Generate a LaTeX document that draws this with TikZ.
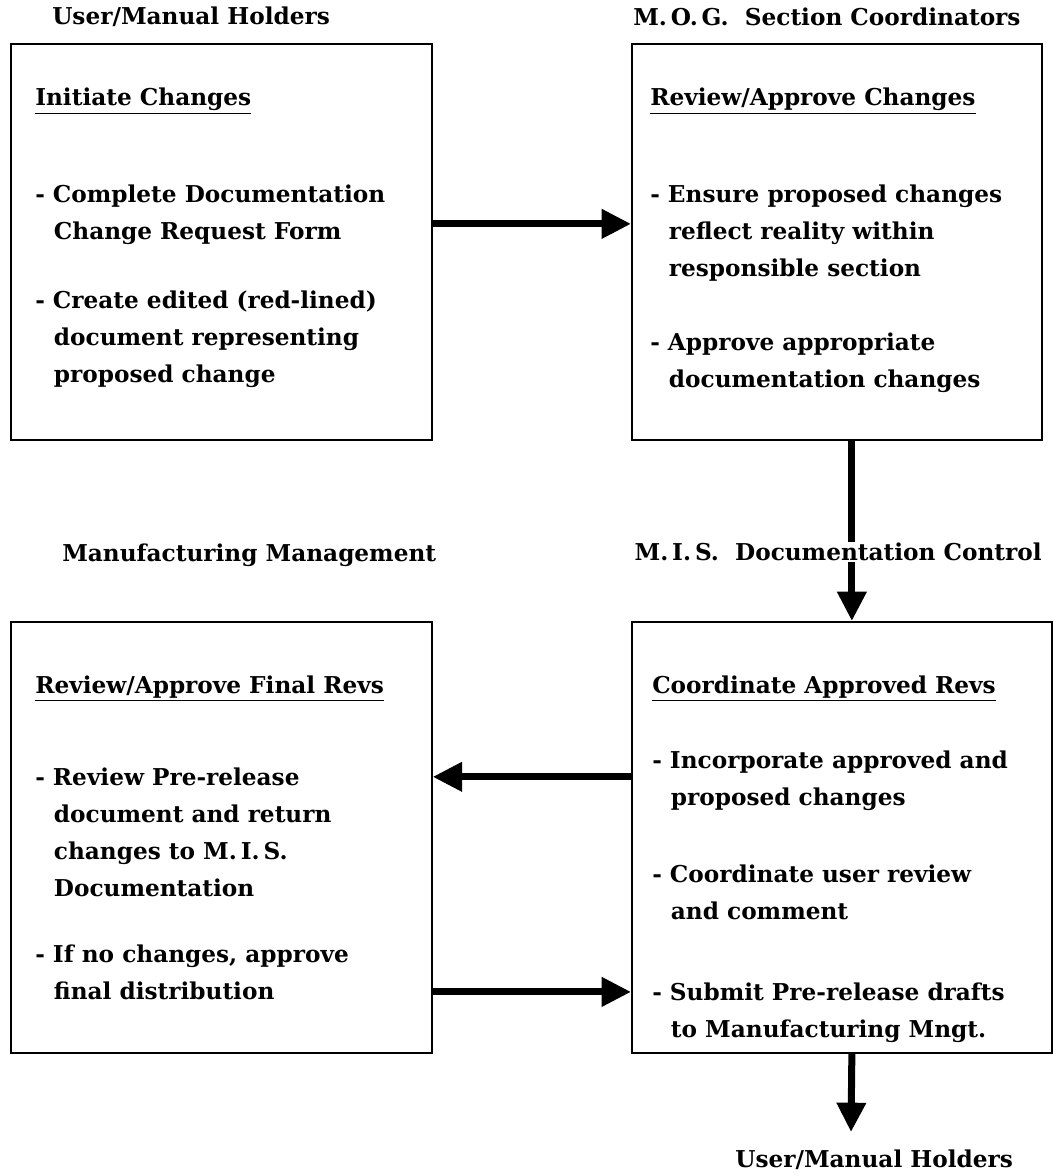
\documentclass[tikz,border=0pt]{standalone}
\usepackage{fontspec}
\setmainfont{DejaVu Serif}
\usetikzlibrary{arrows.meta}

\tikzset{
  box/.style={draw, line width=1.3pt, anchor=north west, inner sep=0pt},
  who/.style={anchor=west, inner sep=0pt},
  body/.style={anchor=north west, align=left, inner sep=0pt},
  flow/.style={line width=5.25pt, -{Triangle[length=22pt,width=21pt]}},
}
\newcommand{\ind}{\hspace*{14pt}}

\begin{document}
\begin{tikzpicture}[x=0.75pt,y=-0.75pt,font=\fontsize{17.4}{27.75}\selectfont\bfseries]
\useasboundingbox (0,0) rectangle (1053,1176);

% the four boxes
\node[box,minimum width=315.75pt,minimum height=297pt] (ul) at (10,43) {};
\node[box,minimum width=307.5pt,minimum height=297pt] (ur) at (631,43) {};
\node[box,minimum width=315.75pt,minimum height=323.25pt] (ll) at (10,621) {};
\node[box,minimum width=315pt,minimum height=323.25pt] (lr) at (631,621) {};

% who does it
\node[who] (t-ul) at (52,17) {User/Manual Holders};
\node[who] (t-ur) at (633,17) {M.\,O.\,G.\ \ Section Coordinators};
\node[who] (t-ll) at (62,555) {Manufacturing Management};

% what they do
\node[body] (ul-txt) at (35,88) {\underline{Initiate Changes}\\[45pt]
  - Complete Documentation\\
  \ind Change Request Form\\[24pt]
  - Create edited (red-lined)\\
  \ind document representing\\
  \ind proposed change};
\node[body] (ur-txt) at (650,88) {\underline{Review/Approve Changes}\\[45pt]
  - Ensure proposed changes\\
  \ind reflect reality within\\
  \ind responsible section\\[27.75pt]
  - Approve appropriate\\
  \ind documentation changes};
\node[body] (ll-txt) at (35,676) {\underline{Review/Approve Final Revs}\\[41pt]
  - Review Pre-release\\
  \ind document and return\\
  \ind changes to M.\,I.\,S.\\
  \ind Documentation\\[22pt]
  - If no changes, approve\\
  \ind final distribution};
\node[body] (lr-txt) at (652,676) {\underline{Coordinate Approved Revs}\\[28.5pt]
  - Incorporate approved and\\
  \ind proposed changes\\[30pt]
  - Coordinate user review\\
  \ind and comment\\[33pt]
  - Submit Pre-release drafts\\
  \ind to Manufacturing Mngt.};

% flow of the changes
\draw[flow] ([yshift=13.5pt]ul.east) -- ([yshift=13.5pt]ur.west);
\draw[flow] ([xshift=11.25pt]ur.south) -- ([xshift=7.5pt]lr.north);
\draw[flow] ([yshift=45.4pt]lr.west) -- ([yshift=45.4pt]ll.east);
\draw[flow] ([yshift=-115.9pt]ll.east) -- ([yshift=-115.9pt]lr.west);
\coordinate (hand) at (851,1132);
\draw[flow] ([xshift=7.5pt]lr.south) -- (hand);

\node[who,fill=white,inner sep=1pt] (t-lr) at (633,552) {M.\,I.\,S.\ \ Documentation Control};
\node[who] (t-end) at (735,1160) {User/Manual Holders};
\end{tikzpicture}
\end{document}
